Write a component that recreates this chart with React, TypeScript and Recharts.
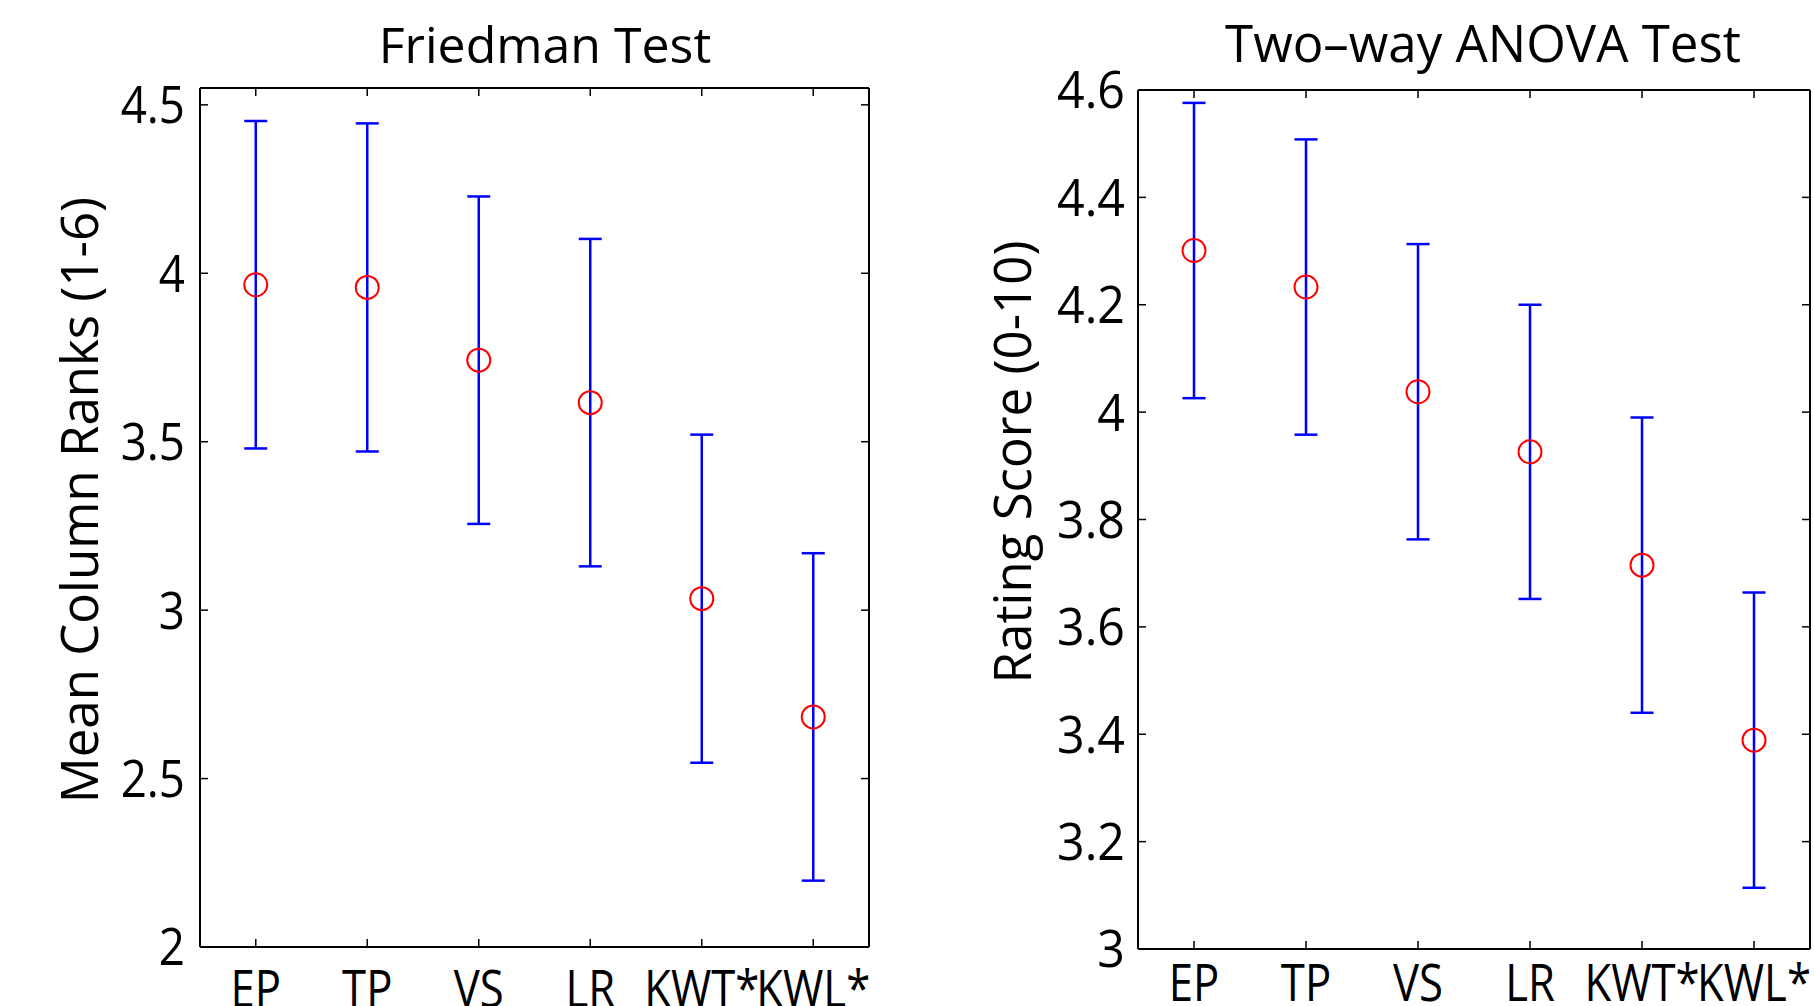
import React from 'react';
import { ComposedChart, Scatter, XAxis, YAxis, ErrorBar } from 'recharts';

// ---- data ----
const categories = ['EP', 'TP', 'VS', 'LR', 'KWT*', 'KWL*'];
const positions = [1, 2, 3, 4, 5, 6];

const friedmanMeans = [3.966, 3.958, 3.742, 3.616, 3.034, 2.683];
const friedmanHalfWidths = [0.486, 0.487, 0.486, 0.486, 0.487, 0.486];
const friedmanTicks = [2, 2.5, 3, 3.5, 4, 4.5];
const friedmanDomain = [2, 4.55];

const anovaMeans = [4.301, 4.233, 4.038, 3.926, 3.715, 3.389];
const anovaHalfWidths = [0.275, 0.275, 0.275, 0.274, 0.275, 0.275];
const anovaTicks = [3, 3.2, 3.4, 3.6, 3.8, 4, 4.2, 4.4, 4.6];
const anovaDomain = [3, 4.6];

const xDomain = [0.5, 6.5];

const FONT = "'Open Sans', 'DejaVu Sans', sans-serif";
const BLUE = '#0000ff';
const RED = '#ff0000';

const buildRows = (means: number[], hw: number[]) =>
  positions.map((p, i) => ({ x: p, y: means[i], err: hw[i] }));

const makeXTick = (sx: number) => (props: any) => {
  const { x, y, payload } = props;
  const name = categories[Math.round(payload.value) - 1] ?? '';
  return (
    <g transform={`translate(${x},${y}) scale(${sx},1)`}>
      <text x={0} y={0} dy="0.71em" textAnchor="middle" fontSize={52} fontFamily={FONT} fill="#000">
        {name}
      </text>
    </g>
  );
};

const makeYTick = (sx: number) => (props: any) => {
  const { x, y, payload } = props;
  return (
    <g transform={`translate(${x},${y}) scale(${sx},1)`}>
      <text x={0} y={0} dy="0.355em" textAnchor="end" fontSize={52} fontFamily={FONT} fill="#000">
        {String(payload.value)}
      </text>
    </g>
  );
};

const EmptyTick = () => <g />;

const Ring = (props: any) => {
  const { cx, cy } = props;
  if (cx == null || cy == null) return null;
  return <circle cx={cx} cy={cy} r={11.5} fill="none" stroke={RED} strokeWidth={2} />;
};

type PanelProps = {
  left: number;
  width: number;
  height: number;
  margin: { top: number; right: number; bottom: number; left: number };
  yAxisWidth: number;
  xAxisHeight: number;
  xTickGap: number;
  yTickGap: number;
  xTickScale: number;
  yTickScale: number;
  means: number[];
  halfWidths: number[];
  yTicks: number[];
  yDomain: number[];
  yLabel: string;
  yLabelX: number;
  yLabelY: number;
};

const Panel = (p: PanelProps) => {
  const rows = buildRows(p.means, p.halfWidths);
  const tickLen = 8;
  const axisStroke = { stroke: '#000', strokeWidth: 2 };
  const tickStroke = { stroke: '#000', strokeWidth: 1.5 };
  const XT = makeXTick(p.xTickScale);
  const YT = makeYTick(p.yTickScale);
  return (
    <div style={{ position: 'absolute', left: p.left, top: 0, width: p.width, height: p.height }}>
      <ComposedChart width={p.width} height={p.height} margin={p.margin} data={rows}>
        <XAxis
          xAxisId="b"
          dataKey="x"
          type="number"
          domain={xDomain}
          ticks={positions}
          allowDataOverflow
          orientation="bottom"
          height={p.xAxisHeight}
          tickSize={0}
          tickMargin={p.xTickGap}
          tickLine={false}
          axisLine={axisStroke}
          tick={<XT />}
          interval={0}
        />
        <YAxis
          yAxisId="l"
          dataKey="y"
          type="number"
          domain={p.yDomain}
          ticks={p.yTicks}
          allowDataOverflow
          orientation="left"
          width={p.yAxisWidth}
          tickSize={0}
          tickMargin={p.yTickGap}
          tickLine={false}
          axisLine={axisStroke}
          tick={<YT />}
          interval={0}
          label={{
            content: () => (
              <text
                transform={`translate(${p.yLabelX},${p.yLabelY}) rotate(-90)`}
                textAnchor="middle"
                fontSize={51}
                fontFamily={FONT}
                fill="#000"
              >
                {p.yLabel}
              </text>
            ),
          }}
        />
        <XAxis
          xAxisId="bm"
          dataKey="x"
          type="number"
          domain={xDomain}
          ticks={positions}
          allowDataOverflow
          orientation="bottom"
          mirror
          height={10}
          tickSize={tickLen}
          tick={<EmptyTick />}
          tickLine={tickStroke}
          axisLine={false}
          interval={0}
        />
        <XAxis
          xAxisId="t"
          dataKey="x"
          type="number"
          domain={xDomain}
          ticks={positions}
          allowDataOverflow
          orientation="top"
          mirror
          height={10}
          tickSize={tickLen}
          tick={<EmptyTick />}
          tickLine={tickStroke}
          axisLine={axisStroke}
          interval={0}
        />
        <YAxis
          yAxisId="lm"
          dataKey="y"
          type="number"
          domain={p.yDomain}
          ticks={p.yTicks}
          allowDataOverflow
          orientation="left"
          mirror
          width={10}
          tickSize={tickLen}
          tick={<EmptyTick />}
          tickLine={tickStroke}
          axisLine={false}
          interval={0}
        />
        <YAxis
          yAxisId="r"
          dataKey="y"
          type="number"
          domain={p.yDomain}
          ticks={p.yTicks}
          allowDataOverflow
          orientation="right"
          mirror
          width={10}
          tickSize={tickLen}
          tick={<EmptyTick />}
          tickLine={tickStroke}
          axisLine={axisStroke}
          interval={0}
        />
        <Scatter
          xAxisId="b"
          yAxisId="l"
          data={rows}
          dataKey="y"
          shape={<Ring />}
          isAnimationActive={false}
        >
          <ErrorBar dataKey="err" direction="y" width={11.5} stroke={BLUE} strokeWidth={2.5} isAnimationActive={false} />
        </Scatter>
      </ComposedChart>
    </div>
  );
};

export default function App() {
  return (
    <div style={{ position: 'absolute', left: 0, top: 0, width: 1814, height: 1006, overflow: 'hidden', background: '#fff' }}>
      <Panel
        left={0}
        width={900}
        height={1006}
        margin={{ top: 88, right: 31, bottom: 0, left: 0 }}
        yAxisWidth={200}
        xAxisHeight={59}
        xTickGap={23}
        yTickGap={15}
        xTickScale={0.84}
        yTickScale={0.88}
        means={friedmanMeans}
        halfWidths={friedmanHalfWidths}
        yTicks={friedmanTicks}
        yDomain={friedmanDomain}
        yLabel="Mean Column Ranks (1-6)"
        yLabelX={98}
        yLabelY={500}
      />
      <Panel
        left={900}
        width={914}
        height={1006}
        margin={{ top: 90, right: 4, bottom: 0, left: 0 }}
        yAxisWidth={238}
        xAxisHeight={57}
        xTickGap={15}
        yTickGap={13}
        xTickScale={0.84}
        yTickScale={0.93}
        means={anovaMeans}
        halfWidths={anovaHalfWidths}
        yTicks={anovaTicks}
        yDomain={anovaDomain}
        yLabel="Rating Score (0-10)"
        yLabelX={131}
        yLabelY={462}
      />
      <svg width={1814} height={100} style={{ position: 'absolute', left: 0, top: 0 }}>
        <text x={545} y={63} textAnchor="middle" fontSize={50} fontFamily={FONT} fill="#000">
          Friedman Test
        </text>
        <text x={1483} y={62} textAnchor="middle" fontSize={51} fontFamily={FONT} fill="#000">
          Two–way ANOVA Test
        </text>
      </svg>
    </div>
  );
}
